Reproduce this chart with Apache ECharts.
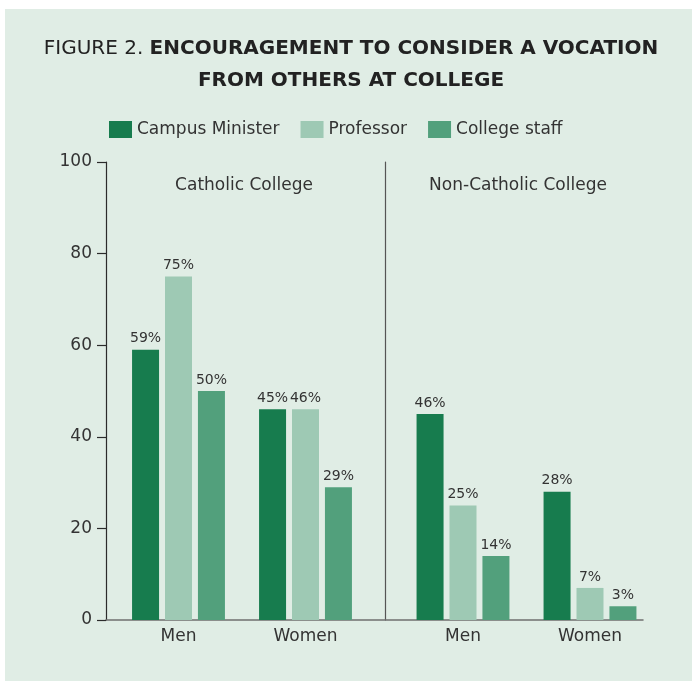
<!DOCTYPE html>
<html>
<head>
<meta charset="utf-8">
<script src="https://cdn.jsdelivr.net/npm/echarts@6/dist/echarts.min.js"></script>
<style>
html,body{margin:0;padding:0;background:#ffffff;}
#chart{width:692px;height:681px;}
</style>
</head>
<body>
<div id="chart"></div>
<script>
// ---- data ----
var categories = ['Men', 'Women'];
var seriesNames = ['Campus Minister', 'Professor', 'College staff'];
var sections = ['Catholic College', 'Non-Catholic College'];
// bar heights
var catholicMinister = [59, 46];
var catholicProfessor = [75, 46];
var catholicStaff = [50, 29];
var nonCatholicMinister = [45, 28];
var nonCatholicProfessor = [25, 7];
var nonCatholicStaff = [14, 3];
// printed labels
var catholicMinisterLabels = ['59%', '45%'];
var catholicProfessorLabels = ['75%', '46%'];
var catholicStaffLabels = ['50%', '29%'];
var nonCatholicMinisterLabels = ['46%', '28%'];
var nonCatholicProfessorLabels = ['25%', '7%'];
var nonCatholicStaffLabels = ['14%', '3%'];
var yTicks = [0, 20, 40, 60, 80, 100];

var colors = ['#177c4e', '#9ec9b4', '#52a07c'];
var FONT = '"DejaVu Sans", sans-serif';
var TXT = '#333333';

var chart = echarts.init(document.getElementById('chart'), null, {renderer: 'canvas'});

function mkSeries(name, data, labels, idx, color) {
  return {
    type: 'bar', name: name, data: data,
    xAxisIndex: idx, yAxisIndex: idx,
    barWidth: 27, barGap: '22%',
    itemStyle: {color: color},
    label: {
      show: true, position: 'top', distance: 4,
      fontFamily: FONT, fontSize: 14, color: TXT,
      formatter: function (p) { return labels[p.dataIndex]; }
    },
    emphasis: {disabled: true}
  };
}

var catAxis = function (gi) {
  return {
    type: 'category', gridIndex: gi, data: categories,
    axisLine: {show: false}, axisTick: {show: false},
    axisLabel: {fontFamily: FONT, fontSize: 17, color: TXT, margin: 8}
  };
};

var option = {
  backgroundColor: 'transparent',
  animation: false,
  color: colors,
  graphic: [{
    type: 'rect', z: -10, silent: true,
    shape: {x: 5, y: 9, width: 687, height: 672},
    style: {fill: '#e0ede5'}
  }],
  title: [
    {
      text: '{a|FIGURE 2. }{b|ENCOURAGEMENT TO CONSIDER A VOCATION}',
      left: 346, top: 34, textAlign: 'center',
      textStyle: {rich: {
        a: {fontFamily: FONT, fontSize: 20, fontWeight: 'normal', color: '#222'},
        b: {fontFamily: FONT, fontSize: 20, fontWeight: 'bold', color: '#222'}
      }}
    },
    {
      text: 'FROM OTHERS AT COLLEGE',
      left: 346, top: 66, textAlign: 'center',
      textStyle: {fontFamily: FONT, fontSize: 20, fontWeight: 'bold', color: '#222'}
    },
    {
      text: sections[0], left: 239, top: 172, textAlign: 'center',
      textStyle: {fontFamily: FONT, fontSize: 17, fontWeight: 'normal', color: TXT}
    },
    {
      text: sections[1], left: 513, top: 172, textAlign: 'center',
      textStyle: {fontFamily: FONT, fontSize: 17, fontWeight: 'normal', color: TXT}
    }
  ],
  legend: {
    data: seriesNames, left: 104, top: 116,
    itemWidth: 23, itemHeight: 17, itemGap: 21,
    icon: 'rect',
    textStyle: {fontFamily: FONT, fontSize: 17, color: TXT},
    selectedMode: false
  },
  grid: [
    {left: 106, top: 162, width: 537, height: 458},
    {left: 115, top: 162, width: 254, height: 458},
    {left: 399.5, top: 162, width: 254, height: 458}
  ],
  xAxis: [
    {
      type: 'value', gridIndex: 0, min: 0, max: 1,
      axisLine: {show: true, lineStyle: {color: '#6f6f6f', width: 1.5}},
      axisTick: {show: false}, axisLabel: {show: false}, splitLine: {show: false}
    },
    catAxis(1),
    catAxis(2)
  ],
  yAxis: [
    {
      type: 'value', gridIndex: 0, min: 0, max: 100, interval: 20,
      axisLine: {show: true, lineStyle: {color: '#2b2b2b', width: 1.2}},
      axisTick: {show: true, inside: false, length: 9, lineStyle: {color: '#2b2b2b', width: 1.2}},
      axisLabel: {fontFamily: FONT, fontSize: 17, color: TXT, margin: 14,
        formatter: function (v) { return yTicks.indexOf(v) >= 0 ? String(v) : ''; }},
      splitLine: {show: false}
    },
    {
      type: 'value', gridIndex: 1, min: 0, max: 100, show: false
    },
    {
      type: 'value', gridIndex: 2, min: 0, max: 100, offset: 14.5,
      axisLine: {show: true, lineStyle: {color: '#555555', width: 1.2}},
      axisTick: {show: false}, axisLabel: {show: false}, splitLine: {show: false}
    }
  ],
  series: [
    mkSeries(seriesNames[0], catholicMinister, catholicMinisterLabels, 1, colors[0]),
    mkSeries(seriesNames[1], catholicProfessor, catholicProfessorLabels, 1, colors[1]),
    mkSeries(seriesNames[2], catholicStaff, catholicStaffLabels, 1, colors[2]),
    mkSeries(seriesNames[0], nonCatholicMinister, nonCatholicMinisterLabels, 2, colors[0]),
    mkSeries(seriesNames[1], nonCatholicProfessor, nonCatholicProfessorLabels, 2, colors[1]),
    mkSeries(seriesNames[2], nonCatholicStaff, nonCatholicStaffLabels, 2, colors[2])
  ]
};
chart.setOption(option);
</script>
</body>
</html>
